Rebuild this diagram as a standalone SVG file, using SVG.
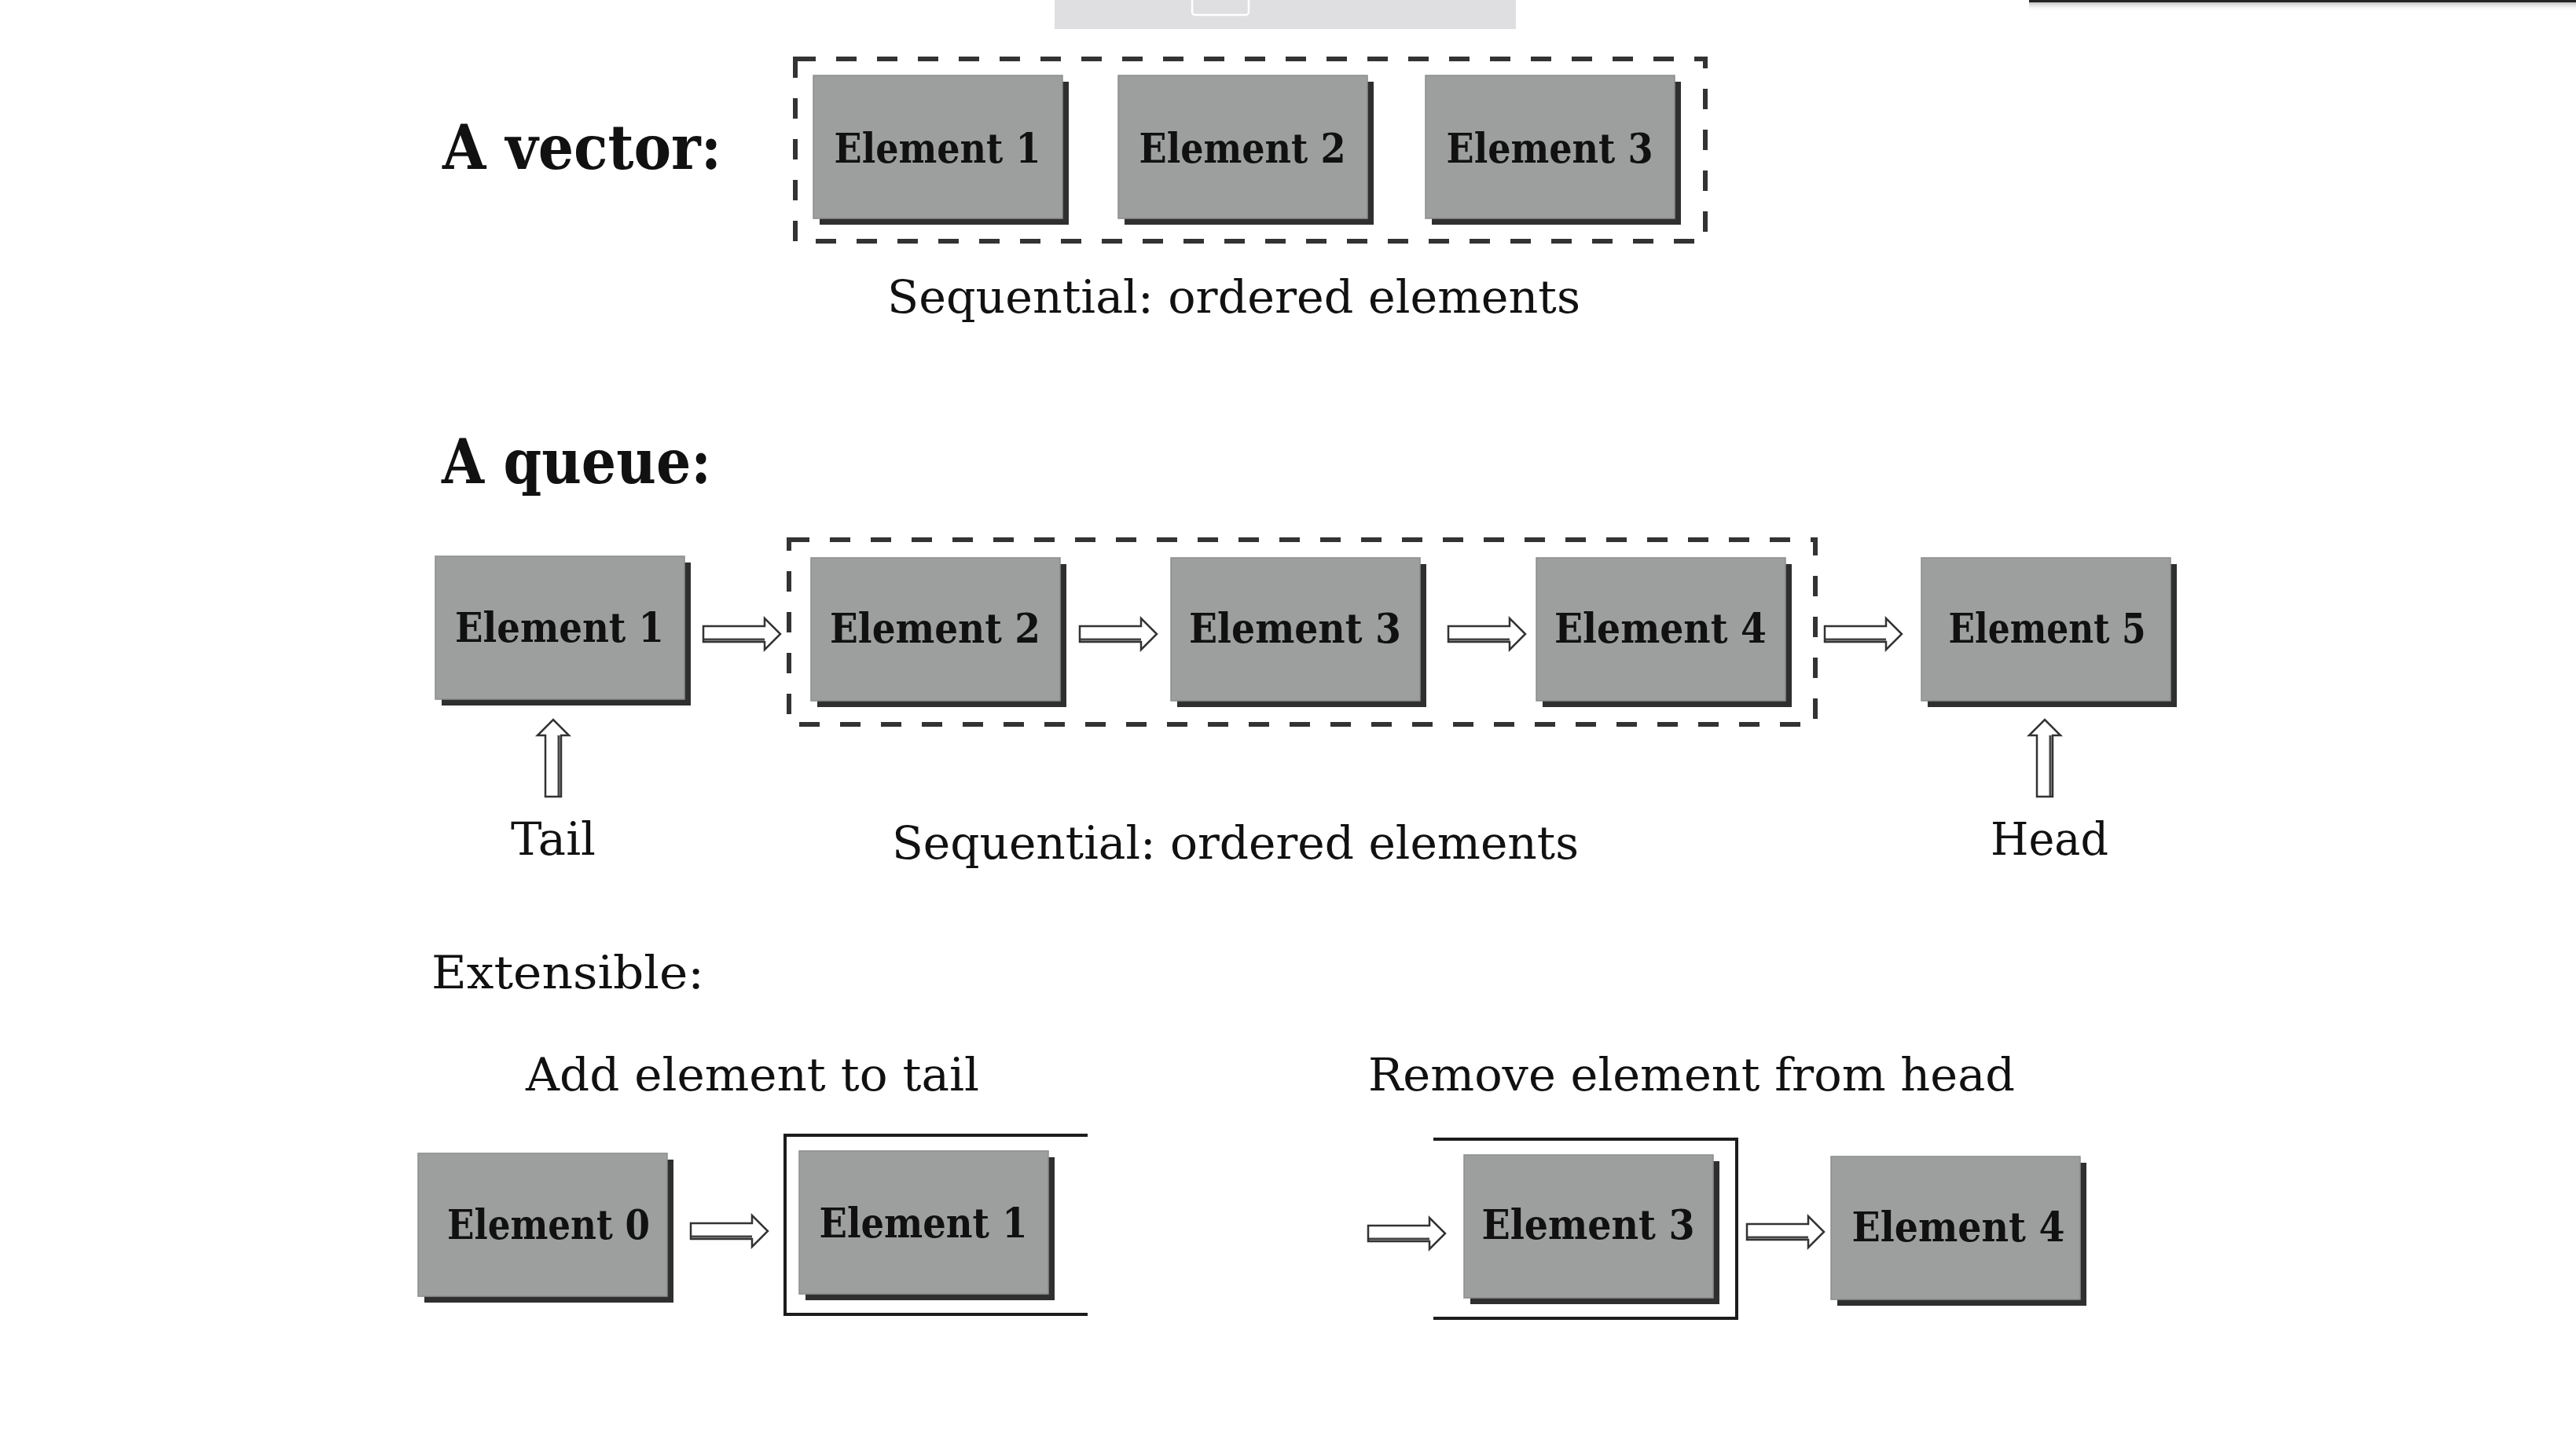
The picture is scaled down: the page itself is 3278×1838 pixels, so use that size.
<svg xmlns="http://www.w3.org/2000/svg" xmlns:xlink="http://www.w3.org/1999/xlink" width="3278" height="1838" viewBox="0 0 3278 1838">
<style>
.face{fill:#9d9f9e;stroke:#8c8e8d;stroke-width:1.5}
.shade{fill:#2f2f2f}
.lbl{font-family:"DejaVu Serif Condensed","DejaVu Serif","Liberation Serif",serif;font-weight:bold;font-size:52px;fill:#111;text-anchor:middle}
.head{font-family:"DejaVu Serif","Liberation Serif",serif;font-weight:bold;font-size:78px;fill:#111}
.txt{font-family:"DejaVu Serif","Liberation Serif",serif;font-size:57px;fill:#111}
.dash{fill:none;stroke:#333;stroke-width:6;stroke-dasharray:26 26}
.frame{fill:none;stroke:#1c1c1c;stroke-width:4}
.arr{fill:#fff;stroke:#333;stroke-width:2.5;stroke-linejoin:miter}
.arrsh{stroke:#444;stroke-width:3}
</style>
<defs>
<g id="arrow">
<path class="arr" d="M0,-10 L78,-10 L78,-20 L98,0 L78,20 L78,10 L0,10 Z"/>
<line class="arrsh" x1="1" y1="7" x2="78" y2="7"/>
</g>
<g id="box">
<rect class="shade" x="8" y="8" width="317" height="182"/>
<rect class="face" x="0" y="0" width="317" height="182"/>
</g>
<linearGradient id="barsh" x1="0" y1="0" x2="0" y2="1">
<stop offset="0" stop-color="#999" stop-opacity="0.6"/>
<stop offset="1" stop-color="#fff" stop-opacity="0"/>
</linearGradient>
</defs>
<rect x="0" y="0" width="3278" height="1838" fill="#fff"/>
<g id="screen-artifacts">
<rect x="1342" y="0" width="587" height="37" fill="#dfdfe1"/>
<rect x="1517" y="-6" width="72" height="25" rx="4" fill="none" stroke="#fff" stroke-width="2.5"/>
<rect x="2582" y="3" width="696" height="12" fill="url(#barsh)"/>
<rect x="2582" y="0" width="696" height="3" fill="#222"/>
</g>
<g id="titles">
<text class="head" x="563" y="215" textLength="355" lengthAdjust="spacingAndGlyphs">A vector:</text>
<text class="head" x="562" y="615" textLength="343" lengthAdjust="spacingAndGlyphs">A queue:</text>
<text class="txt" x="1129" y="398" textLength="882" lengthAdjust="spacingAndGlyphs">Sequential: ordered elements</text>
<text class="txt" x="1135" y="1093" textLength="874" lengthAdjust="spacingAndGlyphs">Sequential: ordered elements</text>
<text class="txt" x="650" y="1088" textLength="108" lengthAdjust="spacingAndGlyphs">Tail</text>
<text class="txt" x="2533" y="1088" textLength="150" lengthAdjust="spacingAndGlyphs">Head</text>
<text class="txt" x="549" y="1258" textLength="347" lengthAdjust="spacingAndGlyphs">Extensible:</text>
<text class="txt" x="669" y="1388" textLength="577" lengthAdjust="spacingAndGlyphs">Add element to tail</text>
<text class="txt" x="1741" y="1388" textLength="823" lengthAdjust="spacingAndGlyphs">Remove element from head</text>
</g>
<g id="containers">
<rect class="dash" x="1012" y="75" width="1158" height="232"/>
<rect class="dash" x="1004" y="687" width="1306" height="235"/>
<polyline class="frame" points="1384,1445 999,1445 999,1673 1384,1673"/>
<polyline class="frame" points="1824,1450 2210,1450 2210,1678 1824,1678"/>
</g>
<g id="vec-e1"><use xlink:href="#box" href="#box" x="1035" y="96"/><text class="lbl" x="1193" y="207" textLength="263" lengthAdjust="spacingAndGlyphs">Element 1</text></g>
<g id="vec-e2"><use xlink:href="#box" href="#box" x="1423" y="96"/><text class="lbl" x="1581" y="207" textLength="263" lengthAdjust="spacingAndGlyphs">Element 2</text></g>
<g id="vec-e3"><use xlink:href="#box" href="#box" x="1814" y="96"/><text class="lbl" x="1972" y="207" textLength="263" lengthAdjust="spacingAndGlyphs">Element 3</text></g>
<g id="q-e1"><use xlink:href="#box" href="#box" x="554" y="708"/><text class="lbl" x="712" y="817" textLength="266" lengthAdjust="spacingAndGlyphs">Element 1</text></g>
<g id="q-e2"><use xlink:href="#box" href="#box" x="1032" y="710"/><text class="lbl" x="1190" y="818" textLength="268" lengthAdjust="spacingAndGlyphs">Element 2</text></g>
<g id="q-e3"><use xlink:href="#box" href="#box" x="1490" y="710"/><text class="lbl" x="1648" y="818" textLength="270" lengthAdjust="spacingAndGlyphs">Element 3</text></g>
<g id="q-e4"><use xlink:href="#box" href="#box" x="1955" y="710"/><text class="lbl" x="2113" y="818" textLength="270" lengthAdjust="spacingAndGlyphs">Element 4</text></g>
<g id="q-e5"><use xlink:href="#box" href="#box" x="2445" y="710"/><text class="lbl" x="2605" y="818" textLength="251" lengthAdjust="spacingAndGlyphs">Element 5</text></g>
<g id="x-e0"><use xlink:href="#box" href="#box" x="532" y="1468"/><text class="lbl" x="698" y="1577" textLength="258" lengthAdjust="spacingAndGlyphs">Element 0</text></g>
<g id="x-e1"><use xlink:href="#box" href="#box" x="1017" y="1465"/><text class="lbl" x="1175" y="1575" textLength="265" lengthAdjust="spacingAndGlyphs">Element 1</text></g>
<g id="x-e3"><use xlink:href="#box" href="#box" x="1863" y="1470"/><text class="lbl" x="2021" y="1577" textLength="271" lengthAdjust="spacingAndGlyphs">Element 3</text></g>
<g id="x-e4"><use xlink:href="#box" href="#box" x="2330" y="1472"/><text class="lbl" x="2492" y="1580" textLength="271" lengthAdjust="spacingAndGlyphs">Element 4</text></g>
<g id="connectors">
<use xlink:href="#arrow" href="#arrow" transform="translate(895,807)"/>
<use xlink:href="#arrow" href="#arrow" transform="translate(1374,807)"/>
<use xlink:href="#arrow" href="#arrow" transform="translate(1843,807)"/>
<use xlink:href="#arrow" href="#arrow" transform="translate(2322,807)"/>
<use xlink:href="#arrow" href="#arrow" transform="translate(704,1014) rotate(-90)"/>
<use xlink:href="#arrow" href="#arrow" transform="translate(2602,1014) rotate(-90)"/>
<use xlink:href="#arrow" href="#arrow" transform="translate(879,1567)"/>
<use xlink:href="#arrow" href="#arrow" transform="translate(1741,1570)"/>
<use xlink:href="#arrow" href="#arrow" transform="translate(2223,1568)"/>
</g>
</svg>
